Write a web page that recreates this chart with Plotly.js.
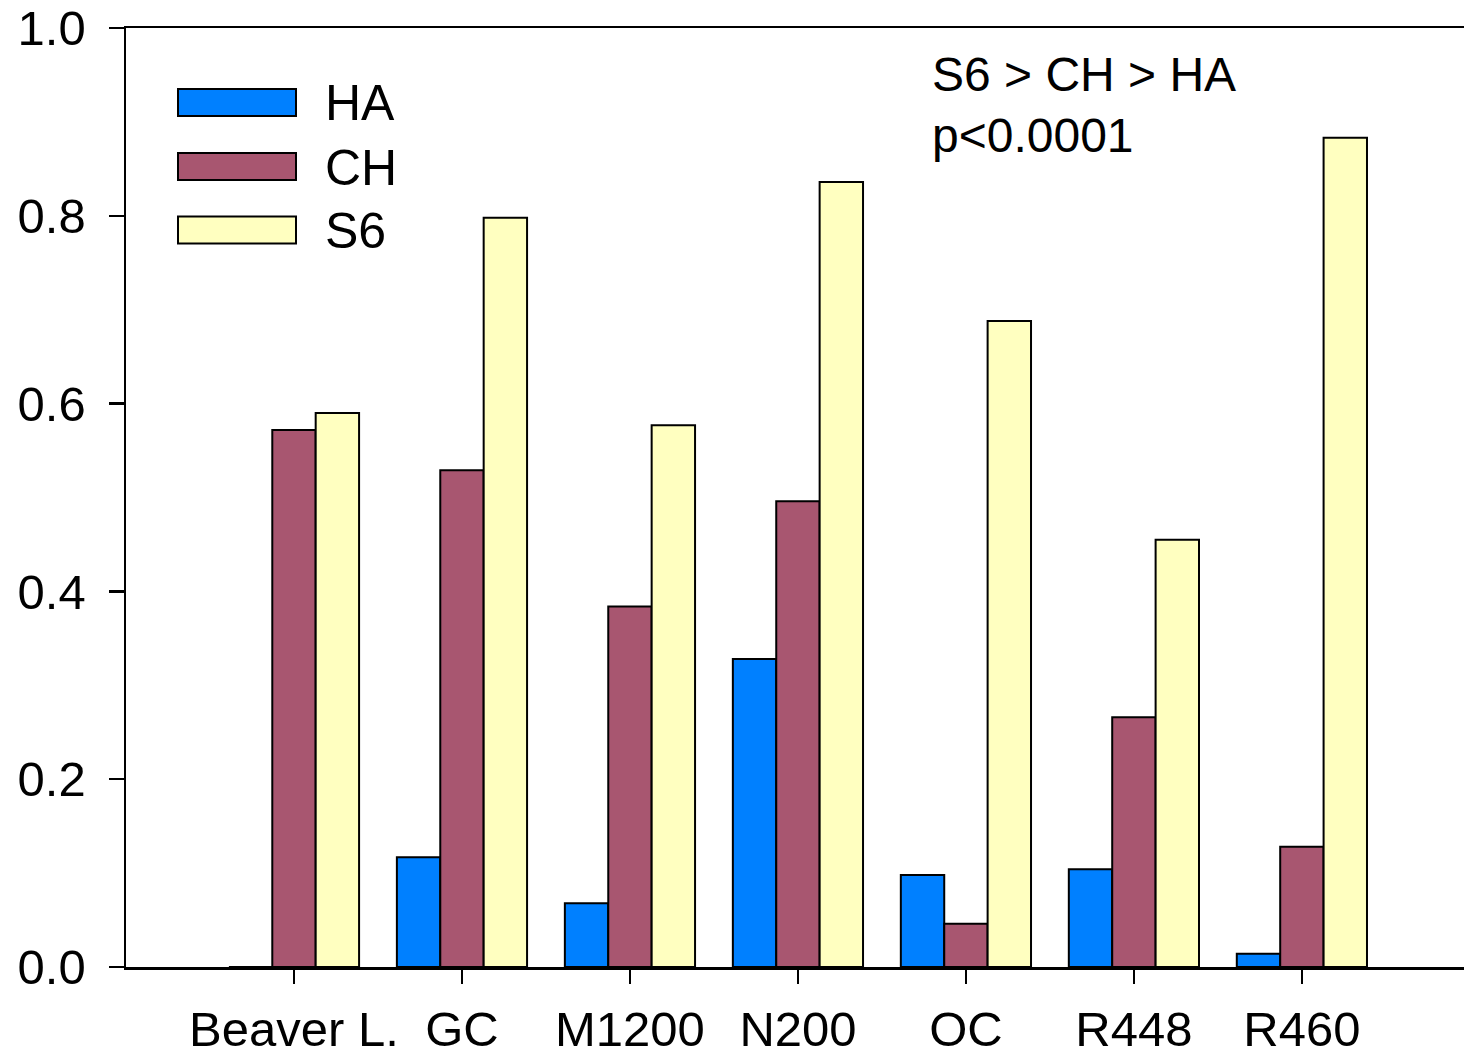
<!DOCTYPE html>
<html>
<head>
<meta charset="utf-8">
<script src="https://cdn.plot.ly/plotly-3.0.1.min.js"></script>
<style>
  html, body { margin: 0; padding: 0; background: #ffffff; }
  #chart { width: 1464px; height: 1060px; }
</style>
</head>
<body>
<div id="chart"></div>
<script>
// ---- data ----
const categories = ["Beaver L.", "GC", "M1200", "N200", "OC", "R448", "R460"];
const seriesNames = ["HA", "CH", "S6"];
const haValues = [0, 0.117, 0.068, 0.328, 0.098, 0.104, 0.014];
const chValues = [0.572, 0.529, 0.384, 0.496, 0.046, 0.266, 0.128];
const s6Values = [0.590, 0.798, 0.577, 0.836, 0.688, 0.455, 0.883];
const yTickValues = [0, 0.2, 0.4, 0.6, 0.8, 1.0];
const statLines = ["S6 > CH > HA", "p<0.0001"];

// ---- style ----
const colors = ["#0080ff", "#a85670", "#ffffc0"];
const FONT = "Liberation Sans, Arial, Helvetica, sans-serif";
const W = 1464, H = 1060;
const margin = { l: 126, r: 0, t: 28, b: 93 };
const plotW = W - margin.l - margin.r;
const plotH = H - margin.t - margin.b;
const px2x = px => (px - margin.l) / plotW;
const px2y = py => (H - margin.b - py) / plotH;

const allValues = [haValues, chValues, s6Values];
const traces = allValues.map((vals, i) => ({
  type: "bar",
  name: seriesNames[i],
  x: categories,
  y: vals,
  marker: { color: colors[i], line: { color: "#000000", width: 2 } },
  hoverinfo: "x+y+name"
}));

// custom legend (large swatches as in the reference)
const shapes = [];
const annotations = [];
const legendCenters = [102.5, 166.5, 230];
seriesNames.forEach((name, i) => {
  const cy = legendCenters[i];
  shapes.push({
    type: "rect", xref: "paper", yref: "paper",
    x0: px2x(178), x1: px2x(296),
    y0: px2y(cy + 13.5), y1: px2y(cy - 13.5),
    fillcolor: colors[i], line: { color: "#000000", width: 2 }
  });
  annotations.push({
    xref: "paper", yref: "paper",
    x: px2x(323), y: px2y(cy + 1),
    xanchor: "left", yanchor: "middle",
    text: name, showarrow: false,
    font: { family: FONT, size: 50, color: "#000000" }
  });
});
const statY = [75, 135];
statLines.forEach((t, i) => {
  annotations.push({
    xref: "paper", yref: "paper",
    x: px2x(930), y: px2y(statY[i]),
    xanchor: "left", yanchor: "middle",
    text: t, showarrow: false,
    font: { family: FONT, size: 48, color: "#000000" }
  });
});

const layout = {
  width: W, height: H,
  margin: margin,
  paper_bgcolor: "#ffffff",
  plot_bgcolor: "#ffffff",
  showlegend: false,
  barmode: "group",
  bargap: 0.225,
  bargroupgap: 0,
  font: { family: FONT, size: 49, color: "#000000" },
  xaxis: {
    type: "category",
    range: [-1, 6.965],
    showgrid: false, zeroline: false,
    showline: true, linecolor: "#000000", linewidth: 2.5, mirror: true,
    ticks: "outside", ticklen: 14, tickwidth: 2.5, tickcolor: "#000000",
    ticklabelstandoff: 4,
    tickfont: { family: FONT, size: 49, color: "#000000" },
    fixedrange: true
  },
  yaxis: {
    range: [0, 1],
    tickvals: yTickValues,
    tickformat: ".1f",
    showgrid: false, zeroline: false,
    showline: true, linecolor: "#000000", linewidth: 2.5, mirror: false,
    ticks: "outside", ticklen: 15, tickwidth: 2.5, tickcolor: "#000000",
    ticklabelstandoff: 13,
    tickfont: { family: FONT, size: 49, color: "#000000" },
    fixedrange: true
  },
  shapes: shapes,
  annotations: annotations
};

Plotly.newPlot("chart", traces, layout, { displayModeBar: false, staticPlot: true });
</script>
</body>
</html>
